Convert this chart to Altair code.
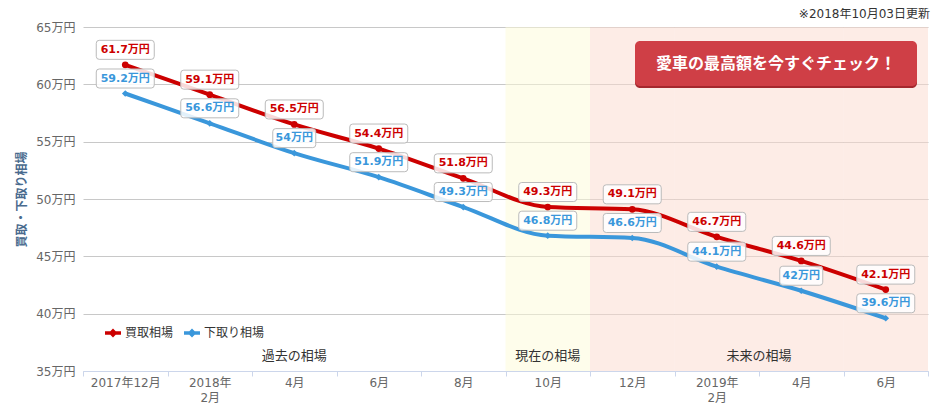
import json
import altair as alt
import pandas as pd

# ---------------- data ----------------
months = ["2017年12月", "2018年2月", "2018年4月", "2018年6月", "2018年8月",
          "2018年10月", "2018年12月", "2019年2月", "2019年4月", "2019年6月"]
tick_labels = [["2017年12月"], ["2018年", "2月"], ["4月"], ["6月"], ["8月"],
               ["10月"], ["12月"], ["2019年", "2月"], ["4月"], ["6月"]]
kaitori = [61.7, 59.1, 56.5, 54.4, 51.8, 49.3, 49.1, 46.7, 44.6, 42.1]
shitadori = [59.2, 56.6, 54.0, 51.9, 49.3, 46.8, 46.6, 44.1, 42.0, 39.6]
series_names = ["買取相場", "下取り相場"]
periods = ["past"] * 5 + ["now"] + ["future"] * 4
region_center = [("2018年4月", "過去の相場"), ("2018年10月", "現在の相場")]
region_edge = [("2019年2月", "未来の相場")]
y_ticks = [35, 40, 45, 50, 55, 60, 65]
y_title = "買取・下取り相場"
update_note = "※2018年10月03日更新"
button_text = "愛車の最高額を今すぐチェック！"

# ---------------- tables ----------------
rows = []
for name, vals in zip(series_names, [kaitori, shitadori]):
    for m, v in zip(months, vals):
        lab = f"{v:g}万円"
        rows.append({"month": m, "series": name, "value": v, "label": lab, "n": len(lab)})
df = pd.DataFrame(rows)
bg_df = pd.DataFrame({"month": months, "period": periods})
reg_c = pd.DataFrame(region_center, columns=["month", "text"])
reg_e = pd.DataFrame(region_edge, columns=["month", "text"])
note_df = pd.DataFrame({"text": [update_note]})
btn_df = pd.DataFrame({"text": [button_text]})

FONT = "'DejaVu Sans', 'Noto Sans CJK JP'"
CJK = "Noto Sans CJK JP"
W, H = 845, 344
RED, BLUE = "#cc0000", "#3a97db"

label_expr = f"{json.dumps(tick_labels, ensure_ascii=False)}[indexof({json.dumps(months, ensure_ascii=False)}, datum.value)]"

x_enc = alt.X(
    "month:N", sort=months,
    scale=alt.Scale(type="band", domain=months, paddingInner=0, paddingOuter=0),
    axis=alt.Axis(title=None, labelAngle=0, tickBand="extent", tickSize=5,
                  tickColor="#ccd6eb", domainColor="#ccd6eb", labelColor="#666666",
                  labelFontSize=12, labelBaseline="top", labelPadding=1,
                  labelLineHeight=15, labelOverlap=False, grid=False,
                  labelFont=FONT, labelExpr=label_expr),
)
y_scale = alt.Scale(domain=[35, 65], nice=False, zero=False)
y_enc = alt.Y(
    "value:Q", scale=y_scale,
    axis=alt.Axis(values=y_ticks, labelExpr="datum.value + '万円'", grid=True,
                  gridColor="#c8c8c8", domain=False, ticks=False, labelColor="#666666",
                  labelFontSize=12, labelPadding=8, labelFont=FONT, title=y_title,
                  titleColor="#4a6b8e", titleFont=CJK,
                  titleFontSize=12, titleFontWeight="bold", titleX=-62, titleY=H / 2,
                  titleAngle=270, titleBaseline="middle"),
)
color_scale = alt.Scale(domain=series_names, range=[RED, BLUE])

# backgrounds
bg = alt.Chart(bg_df).transform_filter("datum.period != 'past'").mark_rect(opacity=0.5).encode(
    x=x_enc,
    y=alt.datum(65, scale=y_scale),
    y2=alt.datum(35),
    color=alt.Color("period:N", scale=alt.Scale(domain=["now", "future"], range=["#fdfbd7", "#fbd9cd"]), legend=None),
)

reg1 = alt.Chart(reg_c).mark_text(fontSize=13, color="#333333", baseline="middle", font=CJK).encode(
    x=alt.X("month:N", sort=months, bandPosition=0.5), y=alt.value(H - 15), text="text:N")
reg2 = alt.Chart(reg_e).mark_text(fontSize=13, color="#333333", baseline="middle", font=CJK).encode(
    x=alt.X("month:N", sort=months, bandPosition=1), y=alt.value(H - 15), text="text:N")

legend = alt.Legend(title=None, orient="none", legendX=22, legendY=298, direction="horizontal",
                    labelFontSize=12, labelColor="#333333", labelFont=CJK, columnPadding=10,
                    symbolType="M-1,-0.22H1V0.22H-1Z M0,-0.55L0.55,0L0,0.55L-0.55,0Z",
                    symbolSize=256, symbolStrokeWidth=0, symbolOpacity=1)

lines = alt.Chart(df).mark_line(interpolate="monotone", strokeWidth=4).encode(
    x=x_enc, y=y_enc,
    color=alt.Color("series:N", scale=color_scale, legend=None),
    detail="series:N",
)
points = alt.Chart(df).mark_point(filled=True, opacity=1, size=45).encode(
    x=x_enc, y=y_enc,
    color=alt.Color("series:N", scale=color_scale, legend=legend),
    shape=alt.Shape("series:N", scale=alt.Scale(domain=series_names, range=["circle", "diamond"]), legend=None),
)


def box_layer(width, cond):
    r = width / 2.0
    h = 9.5 / r
    c = 3.0 / r
    path = (f"M{-1 + c:.3f},{-h:.3f}L{1 - c:.3f},{-h:.3f}Q1,{-h:.3f} 1,{-h + c:.3f}"
            f"L1,{h - c:.3f}Q1,{h:.3f} {1 - c:.3f},{h:.3f}L{-1 + c:.3f},{h:.3f}"
            f"Q-1,{h:.3f} -1,{h - c:.3f}L-1,{-h + c:.3f}Q-1,{-h:.3f} {-1 + c:.3f},{-h:.3f}Z")
    return alt.Chart(df).transform_filter(cond).mark_point(
        shape=path, size=width * width, filled=True, fill="white", fillOpacity=0.85,
        stroke="#bbbbbb", strokeWidth=1, opacity=1, yOffset=-15,
    ).encode(x=x_enc, y=y_enc)


box_long = box_layer(58, "datum.n > 4")
box_short = box_layer(43, "datum.n <= 4")

texts = alt.Chart(df).mark_text(fontSize=11, fontWeight="bold", baseline="middle", yOffset=-15, font=FONT).encode(
    x=x_enc, y=y_enc, text="label:N",
    color=alt.Color("series:N", scale=color_scale, legend=None),
)

btn_shadow = alt.Chart(btn_df).mark_rect(cornerRadius=5, fill="#a5282e").encode(
    x=alt.value(552), x2=alt.value(834), y=alt.value(16), y2=alt.value(61))
btn = alt.Chart(btn_df).mark_rect(cornerRadius=5, fill="#cf3f46").encode(
    x=alt.value(552), x2=alt.value(834), y=alt.value(14), y2=alt.value(59))
btn_text = alt.Chart(btn_df).mark_text(fontSize=16, fontWeight="bold", color="white", baseline="middle", font=CJK).encode(
    x=alt.value(693), y=alt.value(37), text="text:N")

note = alt.Chart(note_df).mark_text(fontSize=12, color="#333333", align="right", baseline="top", font=FONT).encode(
    x=alt.value(W + 2), y=alt.value(-18), text="text:N")

chart = alt.layer(
    bg, reg1, reg2, lines, points, box_long, box_short, texts, btn_shadow, btn, btn_text, note
).resolve_scale(color="independent").properties(
    width=W, height=H,
    autosize=alt.AutoSizeParams(type="none"),
    padding={"left": 75, "top": 19, "right": 5, "bottom": 40},
).configure(font=CJK).configure_view(stroke=None)

chart.save("out.html", embed_options={"renderer": "svg", "actions": False})
